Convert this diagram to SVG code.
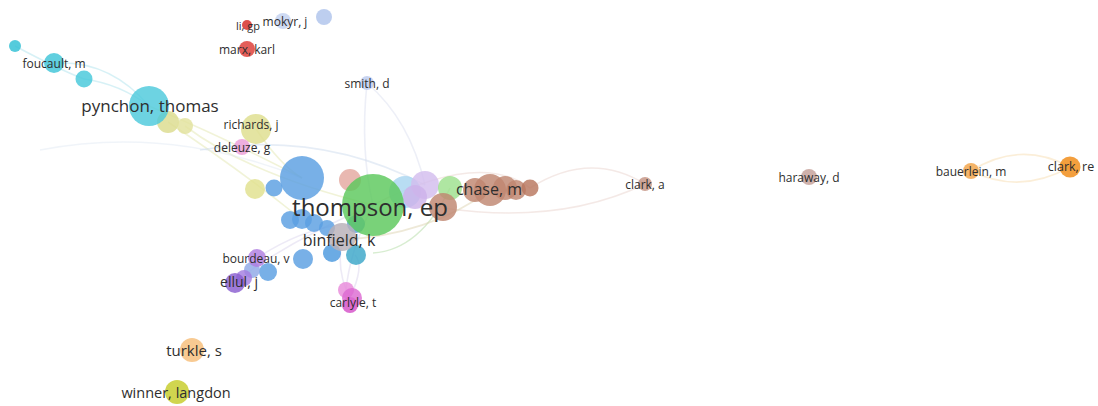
<svg xmlns="http://www.w3.org/2000/svg" width="1098" height="406" viewBox="0 0 1098 406">
<style>
.e{fill:none;stroke-width:1.6;stroke-opacity:0.45}
.n{fill-opacity:0.82}
text{font-family:"Open Sans","Noto Sans","Liberation Sans",sans-serif;fill:#2e2e2e;text-anchor:middle;dominant-baseline:central}
.s{font-size:12px}
.l{font-size:16px}
</style>
<rect width="1098" height="406" fill="#ffffff"/>
<g id="edges">
<path class="e" stroke="#a6e0ea" d="M54,63 Q110,60 149,106"/>
<path class="e" stroke="#a6e0ea" d="M84,79 Q120,84 149,106"/>
<path class="e" stroke="#a6e0ea" d="M15,46 Q60,70 84,79"/>
<path class="e" stroke="#dfe4a8" d="M149,106 Q230,140 302,178"/>
<path class="e" stroke="#dfe4a8" d="M168,122 Q240,170 300,218"/>
<path class="e" stroke="#dfe4a8" d="M185,126 Q250,175 373,205"/>
<path class="e" stroke="#dfe4a8" d="M256,129 Q280,165 302,178"/>
<path class="e" stroke="#dde6f2" stroke-opacity="0.3" d="M40,150 Q170,125 302,178"/>
<path class="e" stroke="#c8d8ec" d="M200,150 Q320,130 425,185"/>
<path class="e" stroke="#d8dcee" d="M367,83 Q360,150 373,205"/>
<path class="e" stroke="#d8dcee" d="M367,83 Q410,120 425,185"/>
<path class="e" stroke="#e6cfc8" d="M530,188 Q590,150 645,184"/>
<path class="e" stroke="#e6cfc8" d="M443,208 Q560,225 645,184"/>
<path class="e" stroke="#e6cfc8" d="M373,205 Q480,150 530,188"/>
<path class="e" stroke="#a8d89a" d="M373,253 Q420,250 450,188"/>
<path class="e" stroke="#d9cfa8" d="M340,240 Q430,235 490,190"/>
<path class="e" stroke="#d6d0ec" d="M257,258 Q300,230 340,225"/>
<path class="e" stroke="#d6d0ec" d="M236,281 Q290,240 373,205"/>
<path class="e" stroke="#d6d0ec" d="M350,298 Q335,270 343,237"/>
<path class="e" stroke="#d6d0ec" d="M350,298 Q365,265 355,255"/>
<path class="e" stroke="#d6d0ec" d="M346,290 Q350,250 373,205"/>
<path class="e" stroke="#f6d9a8" d="M971,171 Q1020,140 1070,167"/>
<path class="e" stroke="#f6d9a8" d="M971,171 Q1020,195 1070,167"/>
</g>
<g id="node-misc">
<circle class="n" cx="15" cy="46" r="6" fill="#2fc0d4"/>
<circle class="n" cx="84" cy="79" r="8.5" fill="#45c8da"/>
<circle class="n" cx="324" cy="17" r="8" fill="#aec3ec"/>
<circle class="n" cx="168" cy="122" r="11" fill="#dcdc8e"/>
<circle class="n" cx="185" cy="126" r="8" fill="#e2e29c"/>
<circle class="n" cx="255" cy="189" r="10" fill="#e0e08e"/>
<circle class="n" cx="274" cy="188" r="8.5" fill="#5a9fe2"/>
<circle class="n" cx="302" cy="178" r="22" fill="#5a9fe2"/>
<circle class="n" cx="350" cy="180" r="11" fill="#e4a8a0"/>
<circle class="n" cx="405" cy="192" r="16" fill="#a8d6f0"/>
<circle class="n" cx="425" cy="185" r="14" fill="#d3bdee"/>
<circle class="n" cx="415" cy="197" r="12" fill="#cdb2ea"/>
<circle class="n" cx="450" cy="188" r="12" fill="#9ee08e"/>
<circle class="n" cx="443" cy="207" r="14" fill="#c08670"/>
<circle class="n" cx="290" cy="220" r="9" fill="#5a9fe2"/>
<circle class="n" cx="302" cy="219" r="10" fill="#5a9fe2"/>
<circle class="n" cx="314" cy="223" r="9" fill="#5a9fe2"/>
<circle class="n" cx="327" cy="228" r="8" fill="#5a9fe2"/>
<circle class="n" cx="356" cy="224" r="9" fill="#5a9fe2"/>
<circle class="n" cx="332" cy="253" r="9" fill="#4a98de"/>
<circle class="n" cx="356" cy="255" r="10" fill="#3aa6c8"/>
<circle class="n" cx="303" cy="259" r="10" fill="#5a9fe2"/>
<circle class="n" cx="268" cy="272" r="9" fill="#5a9fe2"/>
<circle class="n" cx="252" cy="270" r="8" fill="#8fa8e6"/>
<circle class="n" cx="244" cy="278" r="8" fill="#a47ee0"/>
<circle class="n" cx="346" cy="290" r="8" fill="#e88ada"/>
<circle class="n" cx="350" cy="305" r="8" fill="#d44fc8"/>
<circle class="n" cx="475" cy="190" r="12" fill="#c08670"/>
<circle class="n" cx="505" cy="188" r="12" fill="#c08670"/>
<circle class="n" cx="516" cy="190" r="10" fill="#c08670"/>
<circle class="n" cx="530" cy="188" r="8.5" fill="#b8765e"/>
</g>
<g id="node-foucault"><circle class="n" cx="54" cy="63" r="10" fill="#3ec4d8"/><text class="s" x="54" y="63">foucault, m</text></g>
<g id="node-pynchon"><circle class="n" cx="149" cy="106" r="20" fill="#4dc9dc"/><text x="150" y="105" style="font-size:17px">pynchon, thomas</text></g>
<g id="node-li"><circle class="n" cx="247" cy="25" r="5" fill="#d62a24"/><text x="248" y="25" style="font-size:11px">li, gp</text></g>
<g id="node-mokyr"><circle class="n" cx="283" cy="21" r="8" fill="#c3d2f0"/><text class="s" x="285" y="21">mokyr, j</text></g>
<g id="node-marx"><circle class="n" cx="247" cy="49" r="8" fill="#dd3b35"/><text class="s" x="247" y="49">marx, karl</text></g>
<g id="node-smith"><circle class="n" cx="367" cy="83" r="7" fill="#bccbee"/><text class="s" x="367" y="83">smith, d</text></g>
<g id="node-richards"><circle class="n" cx="256" cy="129" r="15" fill="#dede8e"/><text class="s" x="251" y="124">richards, j</text></g>
<g id="node-deleuze"><circle class="n" cx="242" cy="147" r="8" fill="#ec9ed8"/><text class="s" x="242" y="147">deleuze, g</text></g>
<g id="node-thompson"><circle class="n" cx="373" cy="205" r="31" fill="#5cc85c"/><text x="370" y="206" style="font-size:24px">thompson, ep</text></g>
<g id="node-chase"><circle class="n" cx="490" cy="190" r="16" fill="#c08670"/><text class="l" x="489" y="189">chase, m</text></g>
<g id="node-clarka"><circle class="n" cx="645" cy="184" r="7" fill="#c49484"/><text class="s" x="645" y="184">clark, a</text></g>
<g id="node-haraway"><circle class="n" cx="809" cy="177" r="8" fill="#c4a098"/><text class="s" x="809" y="177">haraway, d</text></g>
<g id="node-bauerlein"><circle class="n" cx="971" cy="171" r="8" fill="#f2a448"/><text class="s" x="971" y="171">bauerlein, m</text></g>
<g id="node-clarkre"><circle class="n" cx="1070" cy="167" r="10.5" fill="#f08a14"/><text class="s" x="1071" y="166" style="font-size:12.5px">clark, re</text></g>
<g id="node-binfield"><circle class="n" cx="342" cy="237" r="14" fill="#b8b0b8"/><text class="l" x="339" y="240">binfield, k</text></g>
<g id="node-bourdeau"><circle class="n" cx="257" cy="258" r="9" fill="#b07ee0"/><text class="s" x="256" y="258">bourdeau, v</text></g>
<g id="node-ellul"><circle class="n" cx="235" cy="283" r="10" fill="#8a5ed0"/><text x="239" y="281" style="font-size:14px">ellul, j</text></g>
<g id="node-carlyle"><circle class="n" cx="352" cy="298" r="10" fill="#dd6ad2"/><text class="s" x="353" y="302">carlyle, t</text></g>
<g id="node-turkle"><circle class="n" cx="192" cy="350" r="12" fill="#f6be7a"/><text x="194" y="350" style="font-size:15px">turkle, s</text></g>
<g id="node-winner"><circle class="n" cx="177" cy="392" r="12" fill="#c6cc28"/><text x="176" y="392" style="font-size:14.5px">winner, langdon</text></g>
</svg>
